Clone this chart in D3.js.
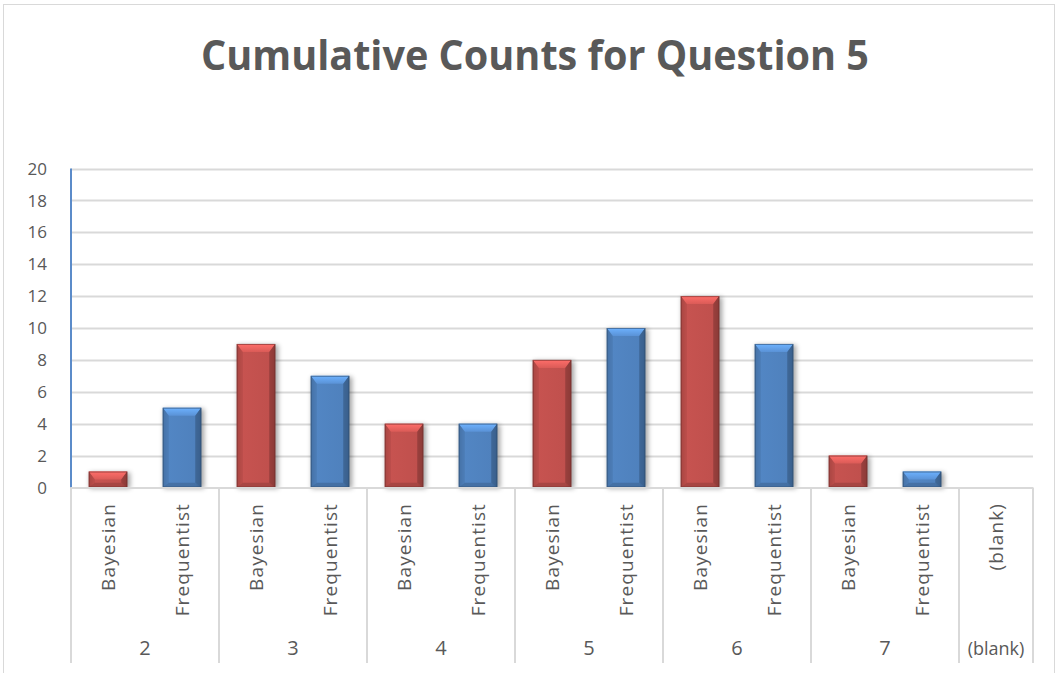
<!DOCTYPE html>
<html><head><meta charset="utf-8">
<script src="https://cdn.jsdelivr.net/npm/d3@7"></script>
<style>body{margin:0;background:#fff}svg{display:block}text{font-family:"Open Sans","Noto Sans",sans-serif}</style>
</head><body>
<svg id="c" width="1058" height="673"></svg>
<script>
const title = "Cumulative Counts for Question 5";
const groups = ["2","3","4","5","6","7","(blank)"];
const subCats = [
  ["2","Bayesian"],["2","Frequentist"],
  ["3","Bayesian"],["3","Frequentist"],
  ["4","Bayesian"],["4","Frequentist"],
  ["5","Bayesian"],["5","Frequentist"],
  ["6","Bayesian"],["6","Frequentist"],
  ["7","Bayesian"],["7","Frequentist"],
  ["(blank)","(blank)"]
];
const values = [1,5,9,7,4,4,8,10,12,9,2,1,null];
const yTicks = [0,2,4,6,8,10,12,14,16,18,20];
const seriesColor = {Bayesian:"#C0504D", Frequentist:"#4F81BD"};

const svg = d3.select("#c");
const defs = svg.append("defs");
const L=71, R=1033, T=168.5, B=487.5;
const x = d3.scaleBand().domain(d3.range(subCats.length)).range([L,R]).paddingInner(0).paddingOuter(0);
const y = d3.scaleLinear().domain([0,20]).range([B,T]);

// frame
svg.append("rect").attr("x",3.5).attr("y",4.5).attr("width",1051).attr("height",672).attr("fill","#fff").attr("stroke","#D9D9D9");

// title
svg.append("text").attr("x",535).attr("y",70).attr("text-anchor","middle")
  .attr("font-size",41).attr("font-weight","bold").attr("fill","#595959")
  .attr("textLength",668).attr("lengthAdjust","spacingAndGlyphs").text(title);

// gridlines
svg.append("g").selectAll("line").data(yTicks.filter(d=>d>0)).join("line")
  .attr("x1",L).attr("x2",R).attr("y1",d=>Math.round(y(d))+0.5).attr("y2",d=>Math.round(y(d))+0.5)
  .attr("stroke","#D9D9D9").attr("stroke-width",2);

// y labels
svg.append("g").selectAll("text").data(yTicks).join("text")
  .attr("x",47).attr("y",d=>y(d)).attr("dy","0.36em").attr("text-anchor","end")
  .attr("font-size",17).attr("fill","#595959").text(d=>d);

// filters & gradients
const f = defs.append("filter").attr("id","sh").attr("x","-30%").attr("y","-30%").attr("width","160%").attr("height","160%");
f.append("feGaussianBlur").attr("stdDeviation",2.5);
function makeGrad(id,c){
  const g = defs.append("linearGradient").attr("id",id).attr("x1","0").attr("x2","1").attr("y1","0").attr("y2","0");
  const base=d3.color(c);
  g.append("stop").attr("offset","0%").attr("stop-color",base.darker(0.5));
  g.append("stop").attr("offset","12%").attr("stop-color",base.brighter(0.1));
  g.append("stop").attr("offset","85%").attr("stop-color",base);
  g.append("stop").attr("offset","100%").attr("stop-color",base.darker(1.2));
  const t = defs.append("linearGradient").attr("id",id+"t").attr("x1","0").attr("x2","0").attr("y1","0").attr("y2","1");
  t.append("stop").attr("offset","0%").attr("stop-color",base.brighter(0.9));
  t.append("stop").attr("offset","100%").attr("stop-color",base.brighter(0.35));
}
makeGrad("gB",seriesColor.Bayesian);
makeGrad("gF",seriesColor.Frequentist);

const bw = x.bandwidth()*0.52;
const bars = svg.append("g").selectAll("g").data(values.map((v,i)=>({v,i,s:subCats[i][1]})).filter(d=>d.v!=null)).join("g");
bars.each(function(d){
  const g=d3.select(this);
  const x0 = x(d.i)+(x.bandwidth()-bw)/2, x1=x0+bw, y0=y(d.v), y1=y(0);
  const c=d3.color(seriesColor[d.s]);
  const gid = d.s==="Bayesian"?"gB":"gF";
  const h=y1-y0, bt=Math.min(8,h/2), bs=Math.min(6,bw/2);
  g.append("rect").attr("x",x0+1).attr("y",y0+1).attr("width",bw+2).attr("height",h).attr("fill","#000").attr("opacity",0.35).attr("filter","url(#sh)");
  g.append("rect").attr("x",x0).attr("y",y0).attr("width",bw).attr("height",h).attr("fill",`url(#${gid})`);
  g.append("polygon").attr("points",[[x0,y0],[x1,y0],[x1-bs,y0+bt],[x0+bs,y0+bt]].join(" ")).attr("fill",`url(#${gid}t)`);
  g.append("polygon").attr("points",[[x1,y0],[x1,y1],[x1-bs,y1-bt*0.6],[x1-bs,y0+bt]].join(" ")).attr("fill",c.darker(0.8)).attr("opacity",0.8);
  g.append("polygon").attr("points",[[x0,y0],[x0,y1],[x0+bs,y1-bt*0.6],[x0+bs,y0+bt]].join(" ")).attr("fill",c.darker(0.3)).attr("opacity",0.6);
  g.append("polygon").attr("points",[[x0,y1],[x1,y1],[x1-bs,y1-bt*0.6],[x0+bs,y1-bt*0.6]].join(" ")).attr("fill",c.darker(0.6)).attr("opacity",0.7);
  g.append("rect").attr("x",x0+0.5).attr("y",y0+0.5).attr("width",bw-1).attr("height",h-1).attr("fill","none").attr("stroke",c.darker(1.5)).attr("stroke-opacity",0.6);
});

// y axis line
svg.append("line").attr("x1",L).attr("x2",L).attr("y1",T).attr("y2",B).attr("stroke","#5B8BC9").attr("stroke-width",2);
// x axis line
svg.append("line").attr("x1",L).attr("x2",R).attr("y1",B+0.5).attr("y2",B+0.5).attr("stroke","#D9D9D9").attr("stroke-width",2);

// group separators
const groupBounds = groups.map(g=>{
  const idx = subCats.map((s,i)=>s[0]===g?i:-1).filter(i=>i>=0);
  return {g, a:x(idx[0]), b:x(idx[idx.length-1])+x.bandwidth()};
});
const seps = [L].concat(groupBounds.map(d=>d.b));
svg.append("g").selectAll("line").data(seps).join("line")
  .attr("x1",d=>d).attr("x2",d=>d).attr("y1",B).attr("y2",663)
  .attr("stroke","#D9D9D9").attr("stroke-width",2);

// sub labels
svg.append("g").selectAll("text").data(subCats).join("text")
  .attr("transform",(d,i)=>`translate(${x(i)+x.bandwidth()/2},503) rotate(-90)`)
  .attr("text-anchor","end").attr("dy","0.36em").attr("font-size",19).attr("letter-spacing","1.1px")
  .attr("fill","#595959").text(d=>d[1]);

// group labels
svg.append("g").selectAll("text").data(groupBounds).join("text")
  .attr("x",d=>(d.a+d.b)/2).attr("y",655).attr("text-anchor","middle")
  .attr("font-size",d=>d.g==="(blank)"?18:20).attr("fill","#595959").text(d=>d.g);
</script>
</body></html>
